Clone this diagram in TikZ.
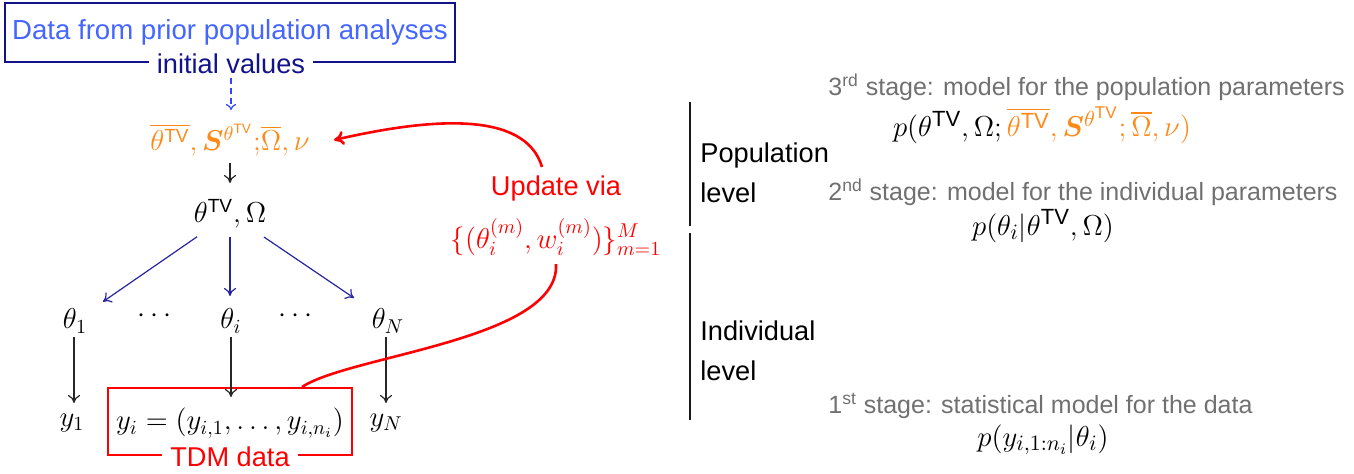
\documentclass[tikz,border=0pt]{standalone}
\usepackage{amsmath,amssymb,bm}
\usepackage{fontspec}
\setsansfont{Liberation Sans}
\usetikzlibrary{arrows.meta}
\DeclareMathSizes{13.5}{13.5}{11}{8.5}
\definecolor{srcblue}{HTML}{4466FF}
\definecolor{navy}{HTML}{12128A}
\definecolor{arrblue}{HTML}{2525A0}
\definecolor{dashblue}{HTML}{3344FF}
\definecolor{orng}{HTML}{FF8A1A}
\definecolor{stagegrey}{HTML}{707070}
\newcommand{\TVs}{\mathsf{TV}}
\begin{document}
\begin{tikzpicture}[x=0.5pt,y=-0.5pt,
  every node/.style={inner sep=0pt},
  lbl/.style={font=\fontsize{13.6}{16}\selectfont\sffamily},
  stage/.style={font=\fontsize{12.5}{15}\selectfont\sffamily,text=stagegrey},
  mth/.style={font=\fontsize{13.6}{16}\selectfont},
  smth/.style={font=\fontsize{13.5}{16}\selectfont},
  blk/.style={-{To[length=4pt,width=6pt]},line width=0.6pt,black!85},
  blu/.style={-{To[length=4pt,width=6pt]},line width=0.6pt,arrblue},
  redc/.style={line width=1.3pt,red},
  vbar/.style={line width=1.3pt,black!90}]
\useasboundingbox (0,0) rectangle (1354,473);

% source box
\node[draw=navy,line width=1pt,minimum width=225pt,minimum height=29.5pt,font=\fontsize{13.8}{16}\selectfont\sffamily,text=srcblue] (src) at (230,32.5) {Data from prior population analyses};
\node[lbl,fill=white,inner xsep=4pt,inner ysep=1pt,text=navy] (init) at (231,64) {initial values};

% hyperparameters
\node[mth,text=orng] (hyp) at (230,140) {$\overline{\theta^{\TVs}},\bm{S}^{\theta^{\TVs}};\!\overline{\Omega},\nu$};
\node[mth] (pop) at (230,214) {$\theta^{\TVs},\Omega$};

\node[mth] (th1) at (75,321) {$\theta_1$};
\node[mth] (d1) at (157,316) {$\cdots$};
\node[mth] (thi) at (231,321) {$\theta_i$};
\node[mth] (d2) at (298,316) {$\cdots$};
\node[mth] (thN) at (388,321) {$\theta_N$};

\node[mth] (y1) at (72,423) {$y_1$};
\node[mth] (yi) at (230,423) {$y_i=(y_{i,1},\ldots,y_{i,n_i})$};
\node[mth] (yN) at (386,423) {$y_N$};
\node[draw=red,line width=1pt,minimum width=122pt,minimum height=33.5pt] (tdm) at (230,421.5) {};
\node[lbl,fill=white,inner xsep=4pt,inner ysep=1pt,text=red] (tdml) at (230,457) {TDM data};

% update label
\node[lbl,text=red] (upd) at (556,188) {Update via};
\node[mth,text=red] (updm) at (556,237) {$\{(\theta_i^{(m)},w_i^{(m)})\}_{m=1}^{M}$};

% connectors
\draw[dashed,dash pattern=on 3pt off 2pt,-{To[length=3pt,width=5pt]},line width=0.6pt,dashblue,shorten <=7pt,shorten >=15pt] (init.center) -- (init.center |- hyp.center);
\draw[blk,shorten <=11.5pt,shorten >=15.5pt] (hyp.center) -- (pop.center);
\draw[blu,shorten <=20pt,shorten >=17pt] (pop.center) -- (th1.center);
\draw[blu,shorten <=11.5pt,shorten >=12.5pt] (pop.center) -- (pop.center |- thi.center);
\draw[blu,shorten <=20.5pt,shorten >=20.5pt] (pop.center) -- (thN.center);
\draw[blk,shorten <=8pt,shorten >=10pt] ([xshift=-0.5pt]th1.center) -- ([xshift=-0.5pt]th1.center |- y1.center);
\draw[blk,shorten <=8pt,shorten >=13pt] (thi.center) -- (thi.center |- yi.center);
\draw[blk,shorten <=8pt,shorten >=10pt] (yN.center |- thN.center) -- (yN.center);

\draw[redc] ([xshift=36pt]tdm.north) .. controls (350,355) and (560,340) .. ([yshift=-4pt]updm.south);
\draw[redc,-{To[length=5pt,width=7pt]}] ([xshift=-7pt,yshift=4pt]upd.north) .. controls (525,110) and (430,118) .. ([xshift=12pt]hyp.east);

% right side
\coordinate (b1t) at (690,102);
\coordinate (b1b) at (690,226);
\coordinate (b2t) at (690,233);
\coordinate (b2b) at (690,420);
\draw[vbar] (b1t) -- (b1b);
\draw[vbar] (b2t) -- (b2b);
\node[lbl,align=left,anchor=west,text=black] (poplev) at (700,173) {Population\\[4pt]level};
\node[lbl,align=left,anchor=west,text=black] (indlev) at (700,351) {Individual\\[4pt]level};

\node[stage,anchor=west] (s3) at (828,87) {3\textsuperscript{rd} stage: model for the population parameters};
\node[smth] (m3) at (1042,125) {$p(\theta^{\TVs},\Omega;\textcolor{orng}{\overline{\theta^{\TVs}},\bm{S}^{\theta^{\TVs}};\overline{\Omega},\nu)}$};
\node[stage,anchor=west] (s2) at (828,192) {2\textsuperscript{nd} stage: model for the individual parameters};
\node[smth] (m2) at (1043,226) {$p(\theta_i|\theta^{\TVs},\Omega)$};
\node[stage,anchor=west] (s1) at (828,406) {1\textsuperscript{st} stage: statistical model for the data};
\node[smth] (m1) at (1043,440) {$p(y_{i,1:n_i}|\theta_i)$};
\end{tikzpicture}
\end{document}
